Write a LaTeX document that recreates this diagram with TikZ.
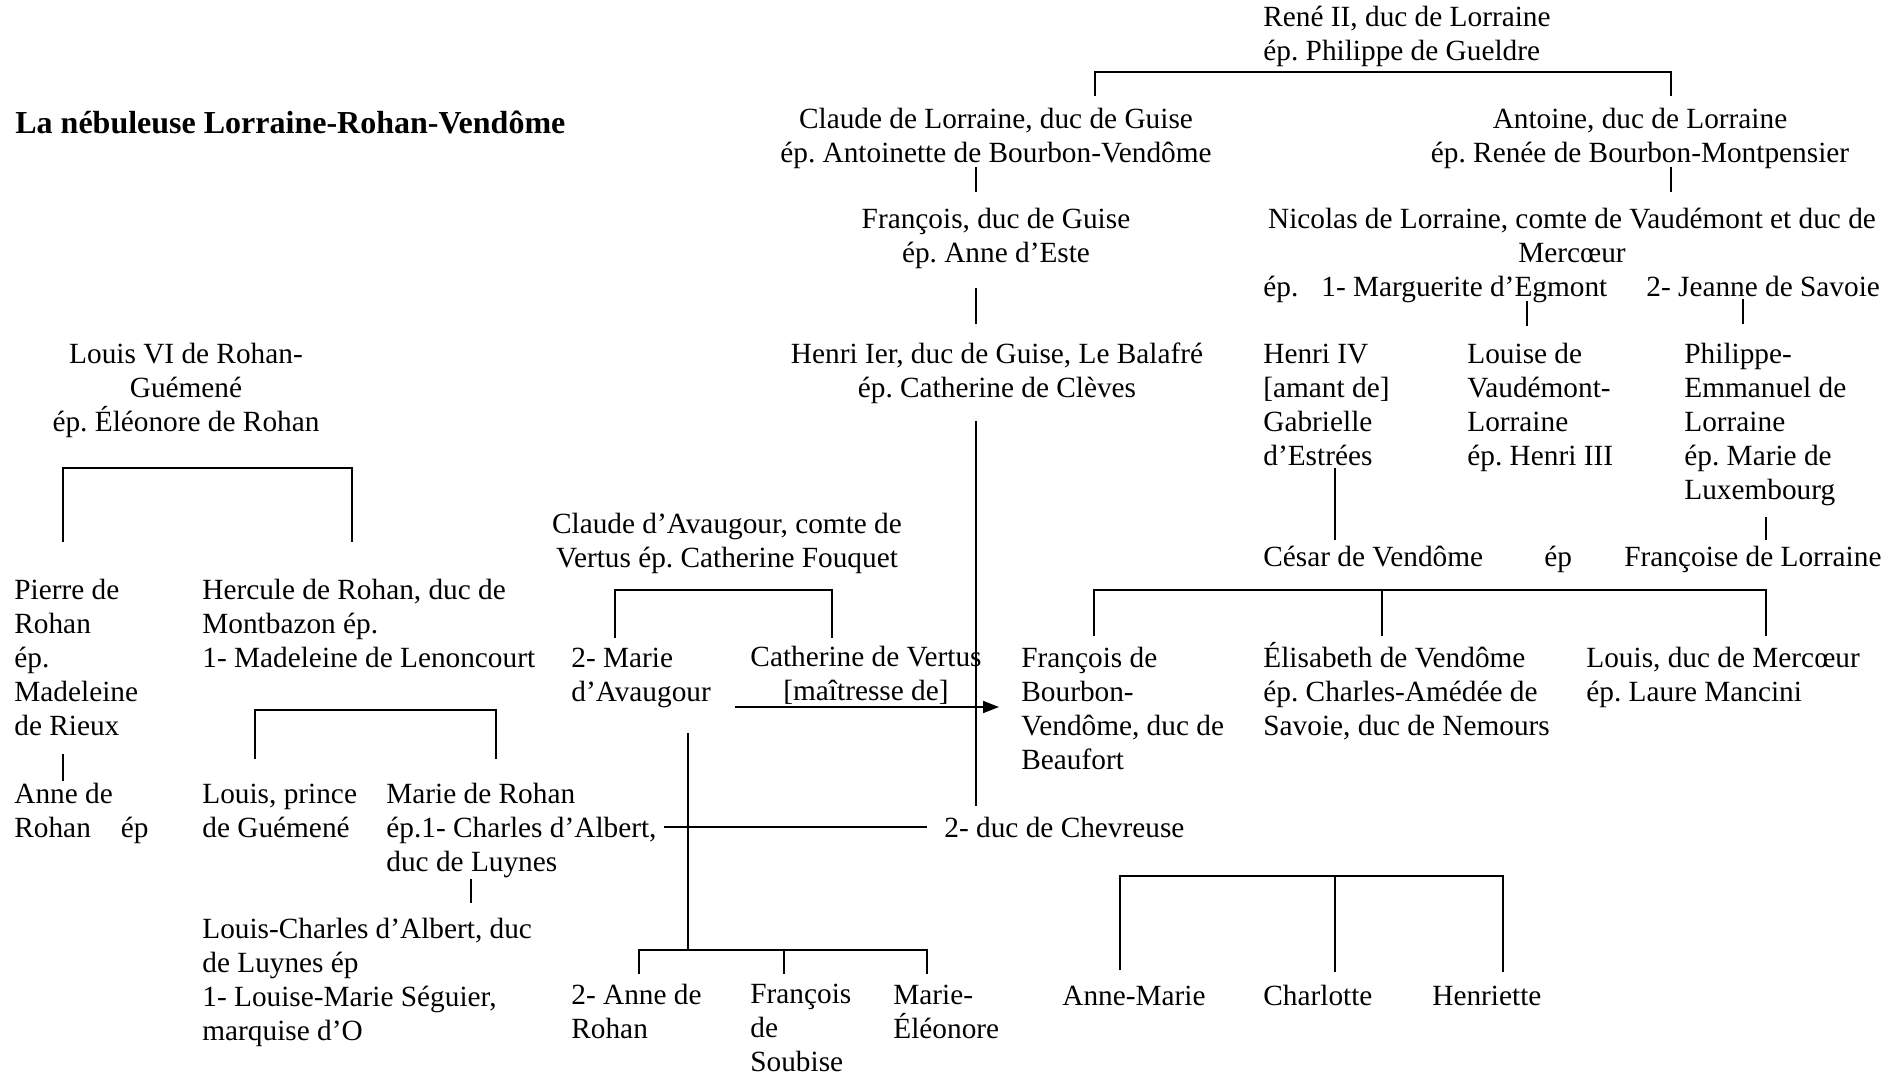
\documentclass[tikz,border=0pt]{standalone}
\usepackage{fontspec}
\setmainfont{Liberation Serif}
\usetikzlibrary{arrows.meta}
\frenchspacing
\begin{document}
\begin{tikzpicture}[x=0.5pt,y=-0.5pt,
        pers/.style={inner sep=0pt,anchor=base west,align=left,font=\fontsize{14.65pt}{17pt}\selectfont},
        persc/.style={pers,anchor=base,align=center},
        lien/.style={line width=0.9pt}
      ]
      \useasboundingbox (0,0) rectangle (1901,1075);
      \node[pers,font=\fontsize{16pt}{18pt}\selectfont\bfseries] (titre) at (15,134) {La nébuleuse Lorraine-Rohan-Vendôme};
      \node[pers] (rene) at (1263,61) {René II, duc de Lorraine\\ép. Philippe de Gueldre};
      \node[persc] (claude) at (996,163) {Claude de Lorraine, duc de Guise\\ép. Antoinette de Bourbon-Vendôme};
      \node[persc] (antoine) at (1640,163) {Antoine, duc de Lorraine\hspace{8pt}\\ép. Renée de Bourbon-Montpensier};
      \node[persc] (francois) at (996,263) {François, duc de Guise\\ép. Anne d’Este};
      \node[persc] (nicolas) at (1572,263) {Nicolas de Lorraine, comte de Vaudémont et duc de\\Mercœur};
      \node[pers] (nicolasep) at (1263,297) {ép.};
      \node[pers] (marguerite) at (1321,297) {1- Marguerite d’Egmont};
      \node[pers] (jeanne) at (1646,297) {2- Jeanne de Savoie};
      \node[persc] (henri) at (997,397) {Henri Ier, duc de Guise, Le Balafré\\ép. Catherine de Clèves};
      \node[pers] (henriIV) at (1263,465) {Henri IV\\{[}amant de]\\Gabrielle\\d’Estrées};
      \node[pers] (louise) at (1467,465) {Louise de\\Vaudémont-\\Lorraine\\ép. Henri III};
      \node[pers] (philippe) at (1684,499) {Philippe-\\Emmanuel de\\Lorraine\\ép. Marie de\\Luxembourg};
      \node[persc] (louisVI) at (186,431) {Louis VI de Rohan-\\Guémené\\ép. Éléonore de Rohan};
      \node[persc] (avaugour) at (727,567) {Claude d’Avaugour, comte de\\Vertus ép. Catherine Fouquet};
      \node[pers] (cesar) at (1263,566) {César de Vendôme};
      \node[pers] (cesarep) at (1544,566) {ép};
      \node[pers] (francoise) at (1624,566) {Françoise de Lorraine};
      \node[pers] (pierre) at (14,735) {Pierre de\\Rohan\\ép.\\Madeleine\\de Rieux};
      \node[pers] (hercule) at (202,667) {Hercule de Rohan, duc de\\Montbazon ép.\\1- Madeleine de Lenoncourt};
      \node[pers] (marieav) at (571,701) {2- Marie\\d’Avaugour};
      \node[persc] (catherine) at (866,700) {Catherine de Vertus\\{[}maîtresse de]};
      \node[pers] (beaufort) at (1021,769) {François de\\Bourbon-\\Vendôme, duc de\\Beaufort};
      \node[pers] (elisabeth) at (1263,735) {Élisabeth de Vendôme\\ép. Charles-Amédée de\\Savoie, duc de Nemours};
      \node[pers] (mercoeur) at (1586,701) {Louis, duc de Mercœur\\ép. Laure Mancini};
      \node[pers] (annerohan) at (14,837) {Anne de\\Rohan\hspace{15pt}ép};
      \node[pers] (guemene) at (202,837) {Louis, prince\\de Guémené};
      \node[pers] (marierohan) at (386,871) {Marie de Rohan\\ép.1- Charles d’Albert,\\duc de Luynes};
      \node[pers] (chevreuse) at (944,837) {2- duc de Chevreuse};
      \node[pers] (louischarles) at (202,1040) {Louis-Charles d’Albert, duc\\de Luynes ép\\1- Louise-Marie Séguier,\\marquise d’O};
      \node[pers] (anne2) at (571,1038) {2- Anne de\\Rohan};
      \node[pers] (soubise) at (750,1071) {François\\de\\Soubise};
      \node[pers] (eleonore) at (893,1038) {Marie-\\Éléonore};
      \node[pers] (annemarie) at (1062,1005) {Anne-Marie};
      \node[pers] (charlotte) at (1263,1005) {Charlotte};
      \node[pers] (henriette) at (1432,1005) {Henriette};

      \coordinate (r1) at (1095,96);  \coordinate (r2) at (1095,72);
      \coordinate (r3) at (1671,72);  \coordinate (r4) at (1671,96);
      \coordinate (c1) at (976,167);  \coordinate (c2) at (976,192);
      \coordinate (a1) at (1671,167); \coordinate (a2) at (1671,192);
      \coordinate (f1) at (976,288);  \coordinate (f2) at (976,324);
      \coordinate (h1) at (976,421);  \coordinate (h2) at (976,806);
      \coordinate (m1) at (1527,301); \coordinate (m2) at (1527,326);
      \coordinate (j1) at (1743,299); \coordinate (j2) at (1743,324);
      \coordinate (g1) at (1335,468); \coordinate (g2) at (1335,540);
      \coordinate (p1) at (1766,517); \coordinate (p2) at (1766,540);
      \coordinate (v1) at (1094,636); \coordinate (v2) at (1094,590);
      \coordinate (v3) at (1766,590); \coordinate (v4) at (1766,636);
      \coordinate (v5) at (1382,590); \coordinate (v6) at (1382,636);
      \coordinate (l1) at (63,542);   \coordinate (l2) at (63,468);
      \coordinate (l3) at (352,468);  \coordinate (l4) at (352,542);
      \coordinate (k1) at (255,759);  \coordinate (k2) at (255,710);
      \coordinate (k3) at (496,710);  \coordinate (k4) at (496,759);
      \coordinate (pa1) at (63,754);  \coordinate (pa2) at (63,781);
      \coordinate (mr1) at (471,879); \coordinate (mr2) at (471,903);
      \coordinate (av1) at (615,638); \coordinate (av2) at (615,590);
      \coordinate (av3) at (832,590); \coordinate (av4) at (832,638);
      \coordinate (ar1) at (735,707); \coordinate (ar2) at (999,707);
      \coordinate (ma1) at (688,733); \coordinate (ma2) at (688,950);
      \coordinate (lc1) at (664,827); \coordinate (lc2) at (927,827);
      \coordinate (e1) at (639,974);  \coordinate (e2) at (639,950);
      \coordinate (e3) at (927,950);  \coordinate (e4) at (927,974);
      \coordinate (e5) at (784,950);  \coordinate (e6) at (784,974);
      \coordinate (ch1) at (1120,970); \coordinate (ch2) at (1120,876);
      \coordinate (ch3) at (1503,876); \coordinate (ch4) at (1503,972);
      \coordinate (ch5) at (1335,876); \coordinate (ch6) at (1335,972);

      \draw[lien] (r1) -- (r2) -- (r3) -- (r4);
      \draw[lien] (c1) -- (c2);
      \draw[lien] (a1) -- (a2);
      \draw[lien] (f1) -- (f2);
      \draw[lien] (h1) -- (h2);
      \draw[lien] (m1) -- (m2);
      \draw[lien] (j1) -- (j2);
      \draw[lien] (g1) -- (g2);
      \draw[lien] (p1) -- (p2);
      \draw[lien] (v1) -- (v2) -- (v3) -- (v4);
      \draw[lien] (v5) -- (v6);
      \draw[lien] (l1) -- (l2) -- (l3) -- (l4);
      \draw[lien] (k1) -- (k2) -- (k3) -- (k4);
      \draw[lien] (pa1) -- (pa2);
      \draw[lien] (mr1) -- (mr2);
      \draw[lien] (av1) -- (av2) -- (av3) -- (av4);
      \draw[lien,-{Triangle[length=8pt,width=6pt]}] (ar1) -- (ar2);
      \draw[lien] (ma1) -- (ma2);
      \draw[lien] (lc1) -- (lc2);
      \draw[lien] (e1) -- (e2) -- (e3) -- (e4);
      \draw[lien] (e5) -- (e6);
      \draw[lien] (ch1) -- (ch2) -- (ch3) -- (ch4);
      \draw[lien] (ch5) -- (ch6);
    \end{tikzpicture}
\end{document}
